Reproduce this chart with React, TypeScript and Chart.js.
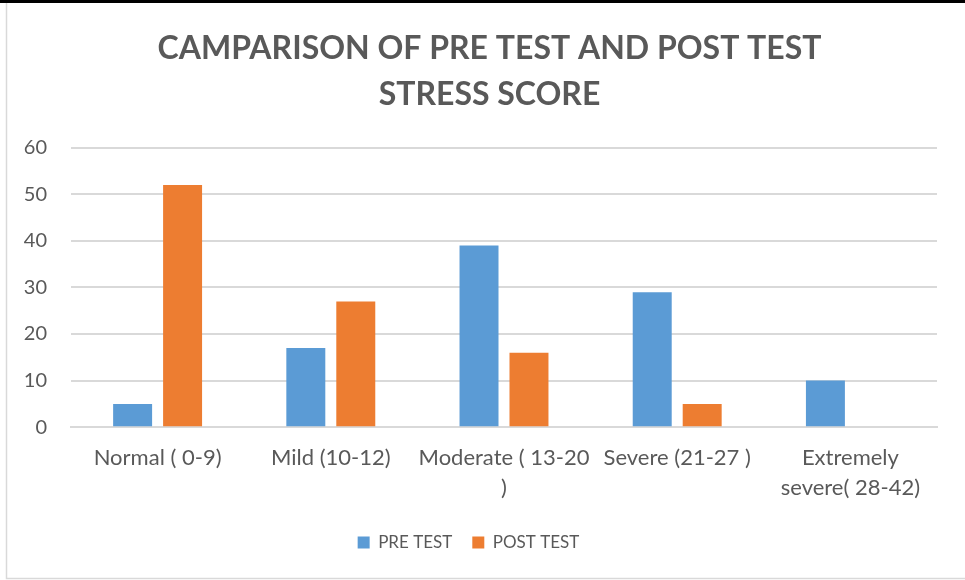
import React, { useEffect, useRef } from "react";
import { Chart, registerables } from "chart.js";

Chart.register(...registerables);

const titleLines = ["CAMPARISON OF PRE TEST AND POST TEST", "STRESS SCORE"];
const categories: (string | string[])[] = [
  "Normal ( 0-9)",
  "Mild (10-12)",
  ["Moderate ( 13-20", ")"],
  "Severe (21-27 )",
  ["Extremely", "severe( 28-42)"],
];
const preTest = [5, 17, 39, 29, 10];
const postTest = [52, 27, 16, 5, 0];
const yTicks = { min: 0, max: 60, step: 10 };

const FONT = "Lato, 'Open Sans', sans-serif";
const TEXT = "#595959";

const framePlugin = {
  id: "frame",
  afterLayout(chart: any) {
    const tb = chart.titleBlock;
    if (tb) {
      tb.left += 42;
      tb.width -= 42;
    }
    const lg = chart.legend;
    if (lg) {
      lg.top -= 5;
      lg.bottom -= 5;
    }
  },
  beforeDraw(chart: any) {
    const ctx = chart.ctx;
    const w = chart.width;
    ctx.save();
    ctx.fillStyle = "#ffffff";
    ctx.fillRect(0, 0, w, chart.height);
    ctx.fillStyle = "#000000";
    ctx.fillRect(0, 0, w, 3);
    ctx.strokeStyle = "#d9d9d9";
    ctx.lineWidth = 1.5;
    ctx.beginPath();
    ctx.moveTo(6.5, 3);
    ctx.lineTo(6.5, 578.5);
    ctx.lineTo(w, 578.5);
    ctx.stroke();
    ctx.restore();
  },
};

export default function App() {
  const ref = useRef<HTMLCanvasElement | null>(null);
  useEffect(() => {
    if (!ref.current) return;
    const chart = new Chart(ref.current, {
      type: "bar",
      data: {
        labels: categories,
        datasets: [
          {
            label: "PRE TEST",
            data: preTest,
            backgroundColor: "#5b9bd5",
            categoryPercentage: 0.577,
            barPercentage: 0.78,
          },
          {
            label: "POST TEST",
            data: postTest,
            backgroundColor: "#ed7d31",
            categoryPercentage: 0.577,
            barPercentage: 0.78,
          },
        ],
      },
      options: {
        responsive: false,
        animation: false,
        layout: { padding: { left: 0, right: 28, top: 25, bottom: 14 } },
        plugins: {
          title: {
            display: true,
            text: titleLines,
            color: TEXT,
            font: { family: FONT, size: 32, weight: "bold", lineHeight: 1.45 },
            padding: { top: 0, bottom: 30 },
          },
          legend: {
            position: "bottom",
            labels: {
              color: TEXT,
              font: { family: FONT, size: 17 },
              boxWidth: 12,
              boxHeight: 12,
              padding: 20,
            },
          },
          tooltip: { enabled: false },
        },
        scales: {
          x: {
            grid: { display: false, drawTicks: false },
            border: { display: true, color: "#d9d9d9", width: 2 },
            ticks: {
              color: TEXT,
              font: { family: FONT, size: 22, lineHeight: 1.36 },
              maxRotation: 0,
              autoSkip: false,
              padding: 16,
            },
          },
          y: {
            min: yTicks.min,
            max: yTicks.max,
            afterFit: (s: any) => {
              s.width = 71;
            },
            grid: { color: "#d9d9d9", lineWidth: 2, drawTicks: false },
            border: { display: false },
            ticks: {
              stepSize: yTicks.step,
              color: TEXT,
              font: { family: FONT, size: 20 },
              padding: 24,
            },
          },
        },
      },
      plugins: [framePlugin],
    });
    return () => chart.destroy();
  }, []);
  return (
    <div style={{ position: "absolute", left: 0, top: 0, width: 965, height: 580 }}>
      <canvas ref={ref} width={965} height={580} style={{ display: "block" }} />
    </div>
  );
}
